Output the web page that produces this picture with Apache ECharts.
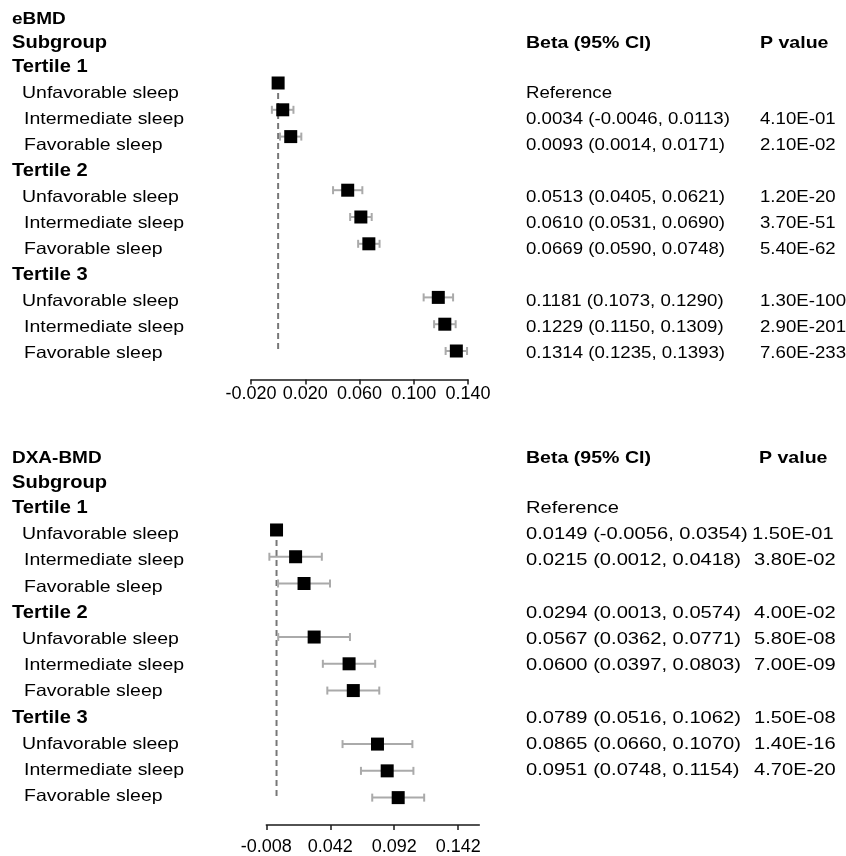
<!DOCTYPE html>
<html><head><meta charset="utf-8">
<script src="https://cdn.jsdelivr.net/npm/echarts@6.0.0/dist/echarts.min.js"></script>
<style>html,body{margin:0;padding:0;background:#fff}#chart{width:846px;height:856px}</style>
</head><body><div id="chart"></div>
<script>
// ---------------- data ----------------
const tertiles = ['Tertile 1', 'Tertile 2', 'Tertile 3'];
const sleepGroups = ['Unfavorable sleep', 'Intermediate sleep', 'Favorable sleep'];

const ebmdBeta  = [0, 0.0034, 0.0093, 0.0513, 0.0610, 0.0669, 0.1181, 0.1229, 0.1314];
const ebmdLower = [null, -0.0046, 0.0014, 0.0405, 0.0531, 0.0590, 0.1073, 0.1150, 0.1235];
const ebmdUpper = [null, 0.0113, 0.0171, 0.0621, 0.0690, 0.0748, 0.1290, 0.1309, 0.1393];
const ebmdP     = ['', '4.10E-01', '2.10E-02', '1.20E-20', '3.70E-51', '5.40E-62', '1.30E-100', '2.90E-201', '7.60E-233'];

const dxaBeta  = [0, 0.0149, 0.0215, 0.0294, 0.0567, 0.0600, 0.0789, 0.0865, 0.0951];
const dxaLower = [null, -0.0056, 0.0012, 0.0013, 0.0362, 0.0397, 0.0516, 0.0660, 0.0748];
const dxaUpper = [null, 0.0354, 0.0418, 0.0574, 0.0771, 0.0803, 0.1062, 0.1070, 0.1154];
const dxaP     = ['', '1.50E-01', '3.80E-02', '4.00E-02', '5.80E-08', '7.00E-09', '1.50E-08', '1.40E-16', '4.70E-20'];

const ebmdTicks = [-0.020, 0.020, 0.060, 0.100, 0.140];
const dxaTicks  = [-0.008, 0.042, 0.092, 0.142];
const refValue = 0;
const colHeaders = ['Beta (95% CI)', 'P value'];
const subgroupHeader = 'Subgroup';
const referenceLabel = 'Reference';

// ---------------- layout ----------------
const FONT = '"Liberation Sans", Arial, Helvetica, sans-serif';
const panels = [
  { title: 'eBMD', beta: ebmdBeta, lower: ebmdLower, upper: ebmdUpper, p: ebmdP, ticks: ebmdTicks,
    xMin: -0.02, xMax: 0.14, grid: { left: 251, right: 378, top: 69.6, height: 294.8 },
    axisOffset: 15, labelMargin: 6,
    titleY: 19, headY: 43, firstY: 67, step: 26.05, tableShift: 0,
    betaX: 526, pX: 760, pHeadX: 760, tableScale: 1.13 },
  { title: 'DXA-BMD', beta: dxaBeta, lower: dxaLower, upper: dxaUpper, p: dxaP, ticks: dxaTicks,
    xMin: -0.008, xMax: 0.1585, grid: { left: 266.3, right: 366.7, top: 516.6, height: 294.8 },
    axisOffset: 14, labelMargin: 13,
    titleY: 458.5, headY: 483, firstY: 508.5, step: 26.2, tableShift: -1,
    betaX: 526, pX: 754, pHeadX: 759, tableScale: 1.22 }
];

function markerRow(j) { return Math.floor(j / 3) * 4 + (j % 3); }
function rowY(pn, r) {
  if (r === -2) return pn.titleY;
  if (r === -1) return pn.headY;
  return pn.firstY + r * pn.step;
}
function txt(x, y, text, size, bold, sx) {
  return {
    type: 'text', x: x, y: y, scaleX: sx, silent: true,
    style: {
      text: text, fill: '#000',
      font: (bold ? 'bold ' : '') + size + 'px ' + FONT,
      align: 'left', verticalAlign: 'middle',
      textAlign: 'left', textVerticalAlign: 'middle'
    }
  };
}
function fmt(v) { return v.toFixed(4); }

const grids = [], xAxes = [], yAxes = [], series = [], graphics = [];

panels.forEach(function (pn, k) {
  grids.push(Object.assign({ containLabel: false }, pn.grid));
  xAxes.push({
    type: 'value', gridIndex: k, min: pn.xMin, max: pn.xMax,
    position: 'bottom', offset: pn.axisOffset,
    splitLine: { show: false },
    axisLine: { show: true, onZero: false, lineStyle: { color: '#1a1a1a', width: 1.5 } },
    axisTick: { show: true, length: 5, inside: false, customValues: pn.ticks,
      lineStyle: { color: '#1a1a1a', width: 1.5 } },
    axisLabel: { customValues: pn.ticks, margin: pn.labelMargin, color: '#000',
      fontFamily: FONT, fontSize: 18, formatter: function (v) { return v.toFixed(3); } }
  });
  yAxes.push({ type: 'value', gridIndex: k, inverse: true, min: -0.5, max: 10.5, show: false });

  const firstRow = markerRow(0), lastRow = markerRow(pn.beta.length - 1);
  series.push({
    type: 'line', xAxisIndex: k, yAxisIndex: k, silent: true, symbol: 'none', z: 1,
    data: [[refValue, firstRow], [refValue, lastRow]],
    lineStyle: { color: '#777', width: 2, type: [6, 4] }
  });

  const ciData = [];
  pn.beta.forEach(function (b, j) {
    if (pn.lower[j] != null) ciData.push([pn.lower[j], pn.upper[j], markerRow(j)]);
  });
  series.push({
    type: 'custom', xAxisIndex: k, yAxisIndex: k, silent: true, z: 2,
    encode: { x: [0, 1], y: 2 },
    data: ciData,
    renderItem: function (params, api) {
      const a = api.coord([api.value(0), api.value(2)]);
      const b = api.coord([api.value(1), api.value(2)]);
      const h = 4;
      const st = { stroke: '#aaaaaa', lineWidth: 2 };
      return { type: 'group', children: [
        { type: 'line', shape: { x1: a[0], y1: a[1], x2: b[0], y2: b[1] }, style: st },
        { type: 'line', shape: { x1: a[0], y1: a[1] - h, x2: a[0], y2: a[1] + h }, style: st },
        { type: 'line', shape: { x1: b[0], y1: b[1] - h, x2: b[0], y2: b[1] + h }, style: st }
      ] };
    }
  });

  series.push({
    type: 'scatter', xAxisIndex: k, yAxisIndex: k, silent: true, z: 3,
    symbol: 'rect', symbolSize: 13,
    itemStyle: { color: '#000', opacity: 1 },
    data: pn.beta.map(function (b, j) { return [b, markerRow(j)]; })
  });

  // left labels
  graphics.push(txt(12, rowY(pn, -2), pn.title, 16.5, true, 1.15));
  graphics.push(txt(12, rowY(pn, -1), subgroupHeader, 17.5, true, 1.15));
  tertiles.forEach(function (t, ti) {
    graphics.push(txt(12, rowY(pn, ti * 4), t, 17.5, true, 1.15));
    sleepGroups.forEach(function (s, si) {
      graphics.push(txt(si === 0 ? 22 : 24, rowY(pn, ti * 4 + 1 + si), s, 16.5, false, 1.18));
    });
  });

  // table columns
  const headRow = -1 + pn.tableShift;
  graphics.push(txt(pn.betaX, rowY(pn, headRow), colHeaders[0], 17, true, 1.15));
  graphics.push(txt(pn.pHeadX, rowY(pn, headRow), colHeaders[1], 17, true, 1.15));
  pn.beta.forEach(function (b, j) {
    const r = markerRow(j) + 1 + pn.tableShift;
    const t = pn.lower[j] == null ? referenceLabel
      : fmt(b) + ' (' + fmt(pn.lower[j]) + ', ' + fmt(pn.upper[j]) + ')';
    graphics.push(txt(pn.betaX, rowY(pn, r), t, 16.5, false, pn.tableScale));
    if (pn.p[j]) graphics.push(txt(j === 1 && k === 1 ? pn.pX - 2 : pn.pX, rowY(pn, r), pn.p[j], 16.5, false, pn.tableScale));
  });
});

const chart = echarts.init(document.getElementById('chart'), null, { renderer: 'canvas' });
chart.setOption({
  animation: false,
  backgroundColor: '#fff',
  grid: grids, xAxis: xAxes, yAxis: yAxes, series: series,
  graphic: { elements: graphics }
});
</script></body></html>
